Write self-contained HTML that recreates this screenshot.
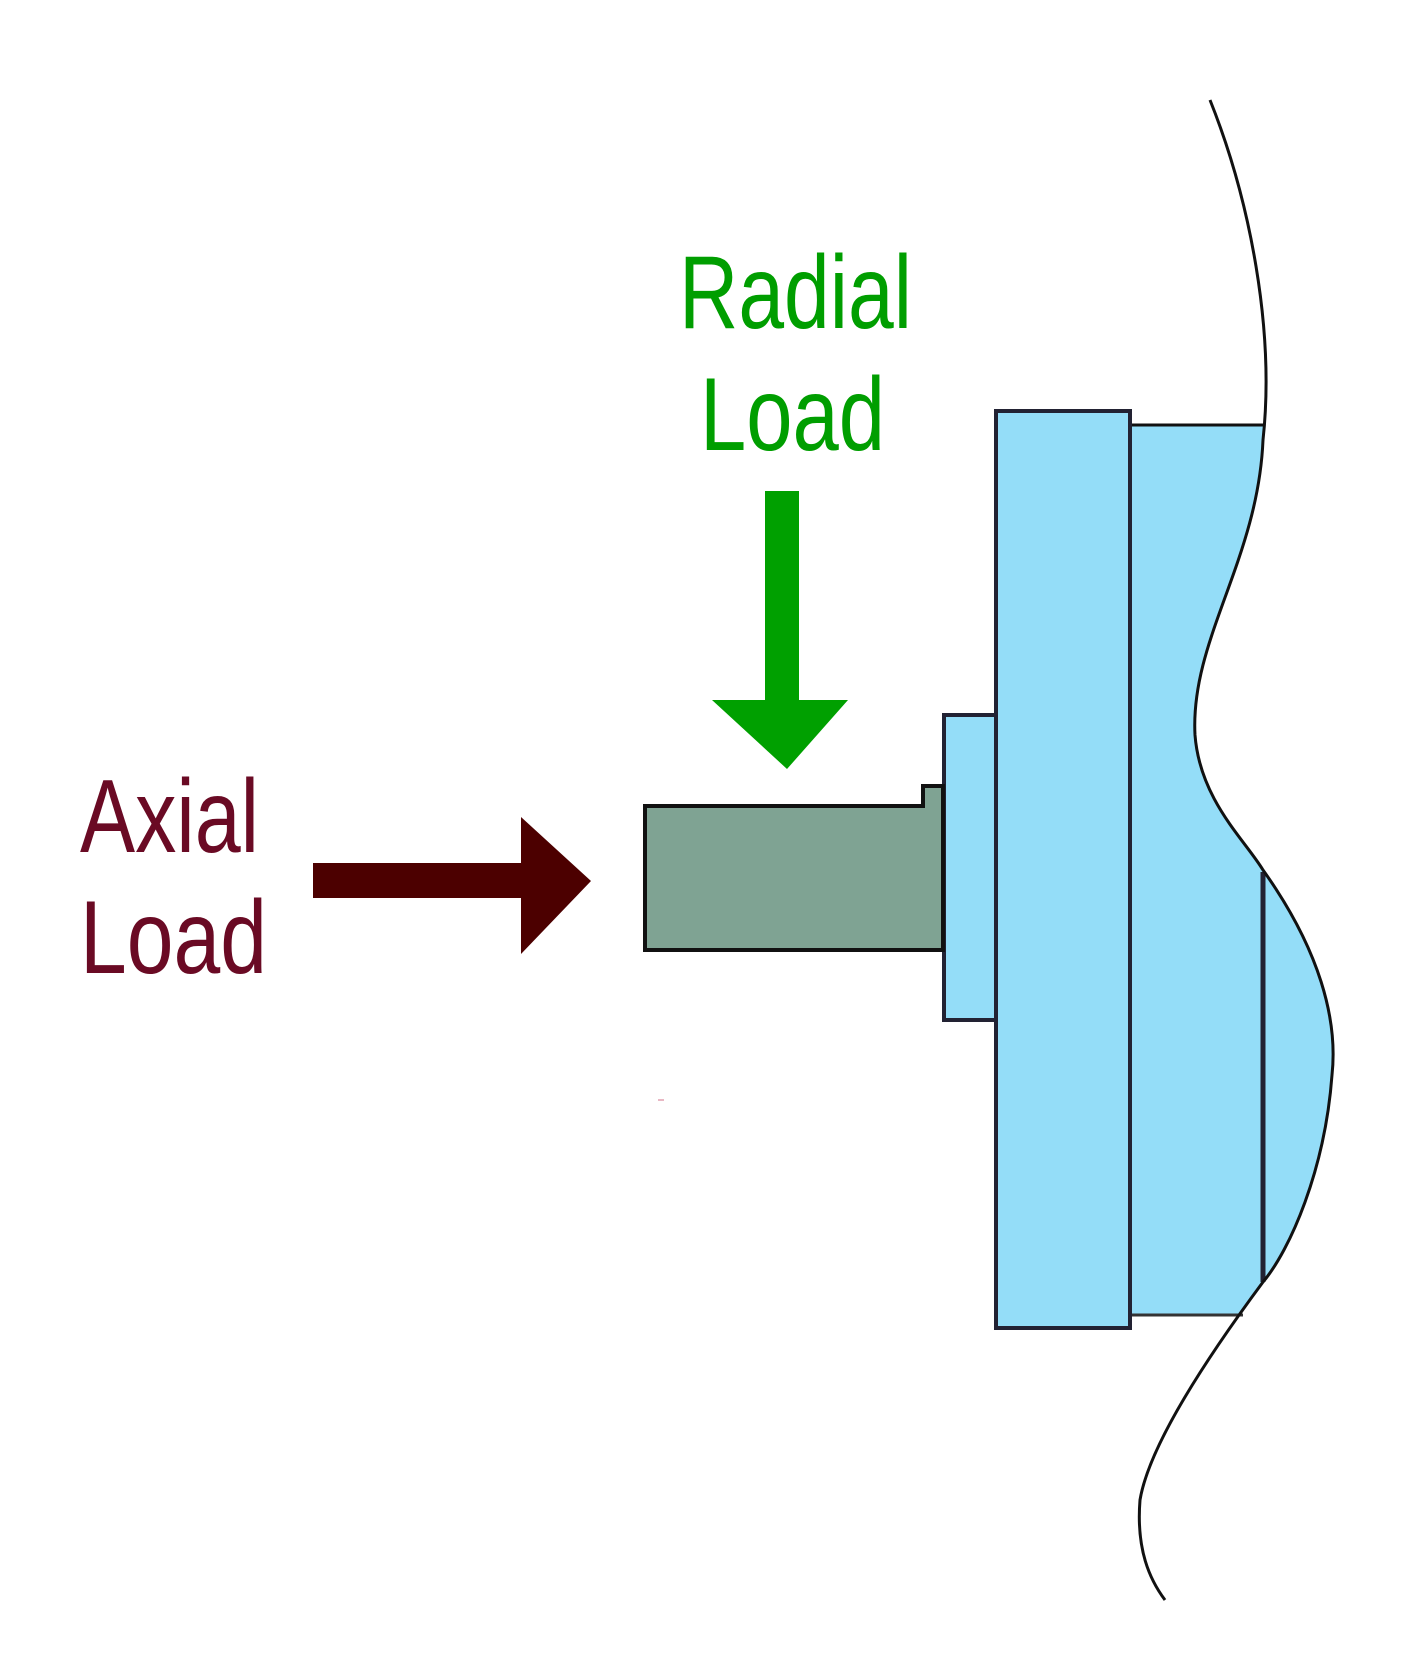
<!DOCTYPE html>
<html><head><meta charset="utf-8"><style>html,body{margin:0;padding:0;background:#fff;}svg{display:block}</style></head>
<body>
<svg width="1420" height="1666" viewBox="0 0 1420 1666" xmlns="http://www.w3.org/2000/svg">
<rect width="1420" height="1666" fill="#fff"/>
<g font-family="Liberation Sans, sans-serif" font-size="104">
<text x="679" y="328" fill="#009e00" textLength="233" lengthAdjust="spacingAndGlyphs">Radial</text>
<text x="700" y="450" fill="#009e00" textLength="185" lengthAdjust="spacingAndGlyphs">Load</text>
<text x="80" y="852" fill="#6a0a24" textLength="179" lengthAdjust="spacingAndGlyphs">Axial</text>
<text x="80" y="973" fill="#6a0a24" textLength="187" lengthAdjust="spacingAndGlyphs">Load</text>
</g>
<polygon points="765,491 799,491 799,700 848,700 787,769 712,700 765,700" fill="#00a000"/>
<polygon points="313,863 521,863 521,817 591,881 521,954 521,898 313,898" fill="#4c0000"/>
<path d="M1130,425 L1263,425 C1262,560 1190,640 1195,735 C1200,800 1245,840 1263,870 C1320,950 1338,1020 1332,1075 C1325,1170 1290,1250 1263,1282 L1240,1315 L1130,1315 Z" fill="#94ddf8"/>
<line x1="1130" y1="425" x2="1263" y2="425" stroke="#111" stroke-width="3"/>
<line x1="1130" y1="1315" x2="1243" y2="1315" stroke="#333" stroke-width="3"/>
<line x1="1263" y1="872" x2="1263" y2="1282" stroke="#223" stroke-width="5"/>
<rect x="996" y="411" width="134" height="917" fill="#94ddf8" stroke="#223" stroke-width="4"/>
<rect x="944" y="715" width="52" height="305" fill="#94ddf8" stroke="#223" stroke-width="4"/>
<path d="M645,806 L923,806 L923,786 L943,786 L943,950 L645,950 Z" fill="#7fa393" stroke="#111" stroke-width="4"/>
<path d="M1210,100 C1250,200 1275,330 1263,440 C1258,560 1190,640 1195,735 C1200,800 1245,840 1263,870 C1320,950 1338,1020 1332,1075 C1325,1170 1290,1250 1263,1282 C1220,1340 1150,1440 1140,1500 C1136,1550 1150,1580 1165,1600" fill="none" stroke="#111" stroke-width="3"/>
<rect x="658" y="1099" width="6" height="2" fill="#e9b8c4"/>
</svg>
</body></html>
